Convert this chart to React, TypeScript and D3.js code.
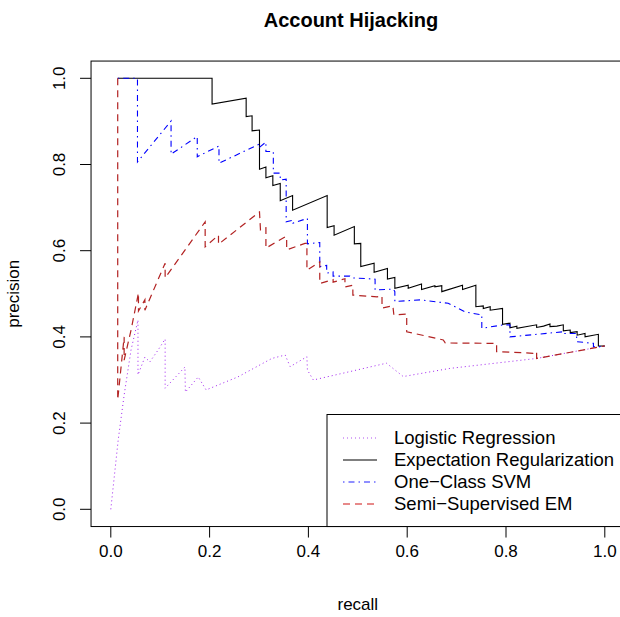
import React from "react";
import * as d3 from "d3";

// ---- data (recall, precision) ----
const lrCurve: [number, number][] = [
  [0.0, 0.0], [0.015, 0.161], [0.027, 0.265], [0.041, 0.37], [0.055, 0.439], [0.055, 0.312],
  [0.069, 0.353], [0.079, 0.342], [0.096, 0.37], [0.11, 0.395], [0.11, 0.281], [0.15, 0.33],
  [0.151, 0.272], [0.177, 0.307], [0.193, 0.277], [0.257, 0.307], [0.326, 0.35], [0.353, 0.358],
  [0.363, 0.331], [0.397, 0.354], [0.398, 0.323], [0.41, 0.3], [0.558, 0.339], [0.592, 0.308],
  [0.687, 0.327], [0.862, 0.35], [1.0, 0.379],
];

const erCurve: [number, number][] = [
  [0.014, 1.0], [0.205, 1.0], [0.205, 0.94], [0.274, 0.954], [0.274, 0.911], [0.286, 0.913],
  [0.286, 0.878], [0.301, 0.88], [0.301, 0.789], [0.314, 0.794], [0.314, 0.769], [0.328, 0.774],
  [0.328, 0.751], [0.343, 0.756], [0.343, 0.716], [0.368, 0.728], [0.368, 0.694], [0.438, 0.728],
  [0.438, 0.654], [0.452, 0.658], [0.452, 0.636], [0.493, 0.656], [0.493, 0.616], [0.506, 0.617],
  [0.506, 0.563], [0.533, 0.571], [0.533, 0.55], [0.56, 0.559], [0.56, 0.534], [0.575, 0.538],
  [0.575, 0.513], [0.602, 0.52], [0.602, 0.513], [0.629, 0.523], [0.629, 0.51], [0.656, 0.519],
  [0.656, 0.516], [0.67, 0.519], [0.67, 0.505], [0.712, 0.52], [0.712, 0.51], [0.739, 0.52],
  [0.739, 0.47], [0.754, 0.472], [0.754, 0.466], [0.768, 0.47], [0.768, 0.462], [0.793, 0.466],
  [0.793, 0.429], [0.808, 0.432], [0.808, 0.421], [0.822, 0.425], [0.822, 0.42], [0.862, 0.428],
  [0.862, 0.422], [0.876, 0.425], [0.889, 0.43], [0.889, 0.424], [0.903, 0.425], [0.916, 0.428],
  [0.916, 0.414], [0.93, 0.416], [0.93, 0.41], [0.944, 0.412], [0.944, 0.404], [0.96, 0.408],
  [0.96, 0.4], [0.987, 0.406], [0.987, 0.379], [1.0, 0.379],
];

const svmCurve: [number, number][] = [
  [0.014, 1.0], [0.054, 1.0], [0.054, 0.806], [0.122, 0.901], [0.122, 0.824], [0.175, 0.865],
  [0.175, 0.818], [0.219, 0.843], [0.219, 0.803], [0.302, 0.848], [0.302, 0.841], [0.314, 0.852],
  [0.314, 0.83], [0.329, 0.83], [0.329, 0.78], [0.343, 0.78], [0.343, 0.764], [0.355, 0.766],
  [0.355, 0.667], [0.369, 0.671], [0.369, 0.664], [0.398, 0.675], [0.398, 0.616], [0.423, 0.619],
  [0.423, 0.563], [0.437, 0.566], [0.437, 0.548], [0.45, 0.551], [0.45, 0.541], [0.484, 0.541],
  [0.488, 0.537], [0.535, 0.534], [0.535, 0.509], [0.572, 0.511], [0.575, 0.505], [0.575, 0.482],
  [0.626, 0.486], [0.683, 0.478], [0.697, 0.47], [0.717, 0.458], [0.751, 0.451], [0.751, 0.42],
  [0.795, 0.428], [0.808, 0.428], [0.808, 0.4], [0.916, 0.412], [0.916, 0.408], [0.943, 0.408],
  [0.943, 0.389], [0.977, 0.385], [0.977, 0.377], [1.0, 0.378],
];

const ssemCurve: [number, number][] = [
  [0.014, 1.0], [0.014, 0.254], [0.027, 0.4], [0.027, 0.346], [0.041, 0.416], [0.056, 0.502],
  [0.056, 0.46], [0.069, 0.486], [0.069, 0.462], [0.11, 0.571], [0.11, 0.537], [0.191, 0.667],
  [0.191, 0.609], [0.218, 0.636], [0.218, 0.615], [0.301, 0.69], [0.303, 0.648], [0.314, 0.653],
  [0.314, 0.606], [0.353, 0.632], [0.356, 0.632], [0.356, 0.602], [0.393, 0.617], [0.397, 0.617],
  [0.397, 0.555], [0.423, 0.574], [0.423, 0.524], [0.45, 0.533], [0.45, 0.527], [0.474, 0.535],
  [0.474, 0.516], [0.49, 0.52], [0.49, 0.497], [0.539, 0.493], [0.549, 0.495], [0.549, 0.467],
  [0.571, 0.472], [0.573, 0.451], [0.599, 0.453], [0.599, 0.412], [0.673, 0.393], [0.677, 0.386],
  [0.771, 0.385], [0.781, 0.385], [0.781, 0.366], [0.855, 0.362], [0.862, 0.366], [0.862, 0.35],
  [1.0, 0.379],
];

const seriesNames = [
  "Logistic Regression",
  "Expectation Regularization",
  "One\u2212Class SVM",
  "Semi\u2212Supervised EM",
];
const xTicks = [0, 0.2, 0.4, 0.6, 0.8, 1.0];
const yTicks = [0, 0.2, 0.4, 0.6, 0.8, 1.0];
const tickLabels = ["0.0", "0.2", "0.4", "0.6", "0.8", "1.0"];

const FONT = "'Liberation Sans', Arial, Helvetica, sans-serif";

export default function App() {
  const W = 620;
  const H = 617;
  const x = d3.scaleLinear().domain([0, 1]).range([110.8, 604.8]);
  const y = d3.scaleLinear().domain([0, 1]).range([509.3, 78.3]);
  const line = d3
    .line<[number, number]>()
    .x((d) => x(d[0]))
    .y((d) => y(d[1]));

  const styles = [
    { color: "#A020F0", dash: "1 3", width: 1, legendColor: "#B050F0" },
    { color: "#000000", dash: "none", width: 1.1, legendColor: "#000000" },
    { color: "#0000FF", dash: "1.5 4 6 4", width: 1.1, legendColor: "#2020FF" },
    { color: "#B22222", dash: "7 5", width: 1.2, legendColor: "#D01515" },
  ];
  const curves = [lrCurve, erCurve, svmCurve, ssemCurve];

  const left = x(-0.04);
  const right = x(1.04);
  const top = y(1.04);
  const bottom = y(-0.04);
  const cx = (left + right) / 2;

  const legLeft = 327;
  const legTop = 414.5;
  const rowY = (i: number) => 438 + i * 22;

  return (
    <svg
      width={W}
      height={H}
      style={{ position: "absolute", left: 0, top: 0, background: "#fff" }}
      fontFamily={FONT}
    >
      <rect x={0} y={0} width={W} height={H} fill="#fff" />
      <text x={351} y={27} textAnchor="middle" fontWeight="bold" fontSize={20}>
        Account Hijacking
      </text>
      {curves.map((c, i) => (
        <path
          key={i}
          d={line(c) || ""}
          fill="none"
          stroke={styles[i].color}
          strokeWidth={styles[i].width}
          strokeDasharray={styles[i].dash}
        />
      ))}
      <rect
        x={left}
        y={top}
        width={right - left}
        height={bottom - top}
        fill="none"
        stroke="#000"
        strokeWidth={1}
      />
      {xTicks.map((t, i) => (
        <g key={"x" + i}>
          <line x1={x(t)} x2={x(t)} y1={bottom} y2={bottom + 11} stroke="#000" />
          <text x={x(t)} y={557} textAnchor="middle" fontSize={17}>
            {tickLabels[i]}
          </text>
        </g>
      ))}
      {yTicks.map((t, i) => (
        <g key={"y" + i}>
          <line x1={left} x2={left - 11} y1={y(t)} y2={y(t)} stroke="#000" />
          <text
            transform={`translate(64.5,${y(t)}) rotate(-90)`}
            textAnchor="middle"
            fontSize={17}
          >
            {tickLabels[i]}
          </text>
        </g>
      ))}
      <text x={cx} y={610} textAnchor="middle" fontSize={17}>
        recall
      </text>
      <text
        transform={`translate(19,${(top + bottom) / 2}) rotate(-90)`}
        textAnchor="middle"
        fontSize={17}
      >
        precision
      </text>
      <rect
        x={legLeft}
        y={legTop}
        width={right - legLeft}
        height={bottom - legTop}
        fill="#fff"
        stroke="#000"
      />
      {seriesNames.map((n, i) => (
        <g key={"l" + i}>
          <line
            x1={343}
            x2={377}
            y1={rowY(i)}
            y2={rowY(i)}
            stroke={styles[i].legendColor}
            strokeWidth={styles[i].width}
            strokeDasharray={styles[i].dash}
          />
          <text x={394} y={rowY(i) + 6.4} fontSize={18.5}>
            {n}
          </text>
        </g>
      ))}
    </svg>
  );
}
